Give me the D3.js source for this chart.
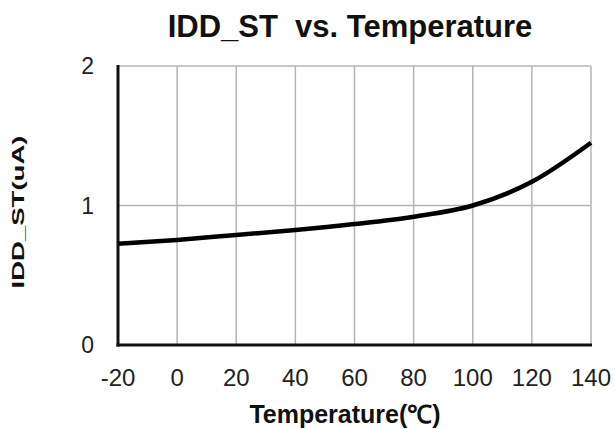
<!DOCTYPE html>
<html>
<head>
<meta charset="utf-8">
<script src="https://cdn.jsdelivr.net/npm/d3@7"></script>
<style>
  body { margin: 0; background: #fff; }
  text { font-family: "Liberation Sans", Arial, sans-serif; }
</style>
</head>
<body>
<svg id="chart" width="615" height="429"></svg>
<script>
const temps = [-20, 0, 20, 40, 60, 80, 100, 120, 140];
const idd = [0.725, 0.753, 0.789, 0.824, 0.867, 0.92, 1.0, 1.17, 1.45];
const xTicks = [-20, 0, 20, 40, 60, 80, 100, 120, 140];
const yTicks = [0, 1, 2];

const margin = { top: 66, right: 24, bottom: 84, left: 118 };
const width = 615, height = 429;

const svg = d3.select("#chart");

const x = d3.scaleLinear().domain([-20, 140]).range([margin.left, width - margin.right]);
const y = d3.scaleLinear().domain([0, 2]).range([height - margin.bottom, margin.top]);

// grid
svg.append("g")
  .selectAll("line.vgrid")
  .data(xTicks.slice(1))
  .join("line")
  .attr("x1", d => x(d))
  .attr("x2", d => x(d))
  .attr("y1", y(0))
  .attr("y2", y(2))
  .attr("stroke", "#b4b4b4")
  .attr("stroke-width", 1.5);

svg.append("g")
  .selectAll("line.hgrid")
  .data(yTicks.slice(1))
  .join("line")
  .attr("x1", x(-20))
  .attr("x2", x(140))
  .attr("y1", d => y(d))
  .attr("y2", d => y(d))
  .attr("stroke", "#b4b4b4")
  .attr("stroke-width", 1.5);

// axes lines (left and bottom black)
svg.append("line")
  .attr("x1", x(-20)).attr("x2", x(-20))
  .attr("y1", y(0) + 1.5).attr("y2", y(2) - 1)
  .attr("stroke", "#111").attr("stroke-width", 3);
svg.append("line")
  .attr("x1", x(-20) - 1.5).attr("x2", x(140) + 1)
  .attr("y1", y(0)).attr("y2", y(0))
  .attr("stroke", "#111").attr("stroke-width", 3);

// tick labels
svg.append("g")
  .selectAll("text")
  .data(xTicks)
  .join("text")
  .attr("x", d => x(d))
  .attr("y", 386)
  .attr("text-anchor", "middle")
  .attr("font-size", 24)
  .attr("fill", "#222")
  .text(d => d);

svg.append("g")
  .selectAll("text")
  .data(yTicks)
  .join("text")
  .attr("x", 94)
  .attr("y", d => y(d) + 8)
  .attr("text-anchor", "end")
  .attr("font-size", 23)
  .attr("fill", "#222")
  .text(d => d);

// curve
const line = d3.line()
  .x((d, i) => x(temps[i]))
  .y(d => y(d))
  .curve(d3.curveMonotoneX);

svg.append("path")
  .datum(idd)
  .attr("d", line)
  .attr("fill", "none")
  .attr("stroke", "#000")
  .attr("stroke-width", 4.5)
  .attr("stroke-linecap", "butt");

// titles
svg.append("text")
  .attr("x", 350)
  .attr("y", 37)
  .attr("text-anchor", "middle")
  .attr("font-size", 31)
  .attr("font-weight", "bold")
  .attr("fill", "#111")
  .attr("xml:space", "preserve")
  .text("IDD_ST  vs. Temperature");

svg.append("text")
  .attr("x", 345)
  .attr("y", 423)
  .attr("text-anchor", "middle")
  .attr("font-size", 25)
  .attr("font-weight", "bold")
  .attr("fill", "#111")
  .text("Temperature(℃)");

// y label is drawn stretched along its length in the original
svg.append("text")
  .attr("transform", "translate(24,212) rotate(-90) scale(1.62,1)")
  .attr("text-anchor", "middle")
  .attr("font-size", 17)
  .attr("font-weight", "bold")
  .attr("fill", "#111")
  .text("IDD_ST(uA)");
</script>
</body>
</html>
